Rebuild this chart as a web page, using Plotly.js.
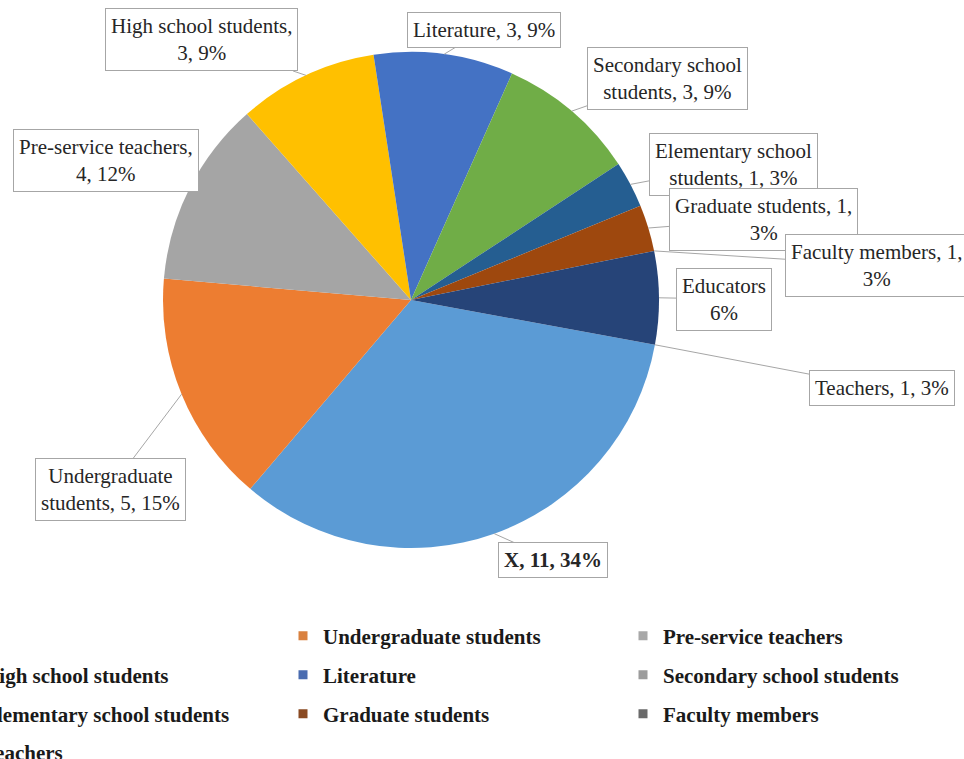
<!DOCTYPE html>
<html>
<head>
<meta charset="utf-8">
<script src="https://cdn.plot.ly/plotly-3.0.1.min.js"></script>
<style>
  html, body { margin: 0; padding: 0; background: #ffffff; }
  #chart { width: 964px; height: 759px; }
</style>
</head>
<body>
<div id="chart"></div>
<script>
// ---------------- DATA ----------------
const sliceLabels = ["X", "Undergraduate students", "Pre-service teachers", "High school students",
  "Literature", "Secondary school students", "Elementary school students", "Graduate students",
  "Faculty members", "Educators", "Teachers"];
// area actually drawn for each slice (Faculty members / Teachers have no visible wedge)
const sliceValues = [11, 5, 4, 3, 3, 3, 1, 1, 0, 2, 0];
const labelTexts = [
  "<b>X, 11, 34%</b>",
  "Undergraduate<br>students, 5, 15%",
  "Pre-service teachers,<br>4, 12%",
  "High school students,<br>3, 9%",
  "Literature, 3, 9%",
  "Secondary school<br>students, 3, 9%",
  "Elementary school<br>students, 1, 3%",
  "Graduate students, 1,<br>3%",
  "Faculty members, 1,<br>3%",
  "Educators<br>6%",
  "Teachers, 1, 3%"
];
const legendNames = ["X", "Undergraduate students", "Pre-service teachers", "High school students",
  "Literature", "Secondary school students", "Elementary school students", "Graduate students",
  "Faculty members", "Teachers"];

// ---------------- STYLE / LAYOUT ----------------
const palette = {
  "X": "#5B9BD5", "Undergraduate students": "#ED7D31", "Pre-service teachers": "#A5A5A5",
  "High school students": "#FFC000", "Literature": "#4472C4", "Secondary school students": "#70AD47",
  "Elementary school students": "#255E91", "Graduate students": "#9E480E", "Faculty members": "#636363",
  "Educators": "#264478", "Teachers": "#997300"
};
// legend swatches as they appear in the original (muted; Secondary shown grey)
const legendPalette = Object.assign({}, palette, {
  "Undergraduate students": "#D9813F", "Pre-service teachers": "#A8A8A8",
  "Literature": "#4A6CB0", "Secondary school students": "#9C9C9C",
  "Graduate students": "#8A4A22", "Faculty members": "#6A6A6A"
});
const W = 964, H = 759;
const CX = 411, CY = 300, R = 248, ROT = 100.4;
// label box centres (pixels)
const boxPos = [[553, 560], [110, 489], [106, 161], [201, 40], [484, 30], [667, 78],
  [733, 165], [763, 219], [876, 265], [724, 299], [882, 388]];
const legendRowY = [636, 675, 714, 752];
const legendX0 = -57;      // left edge of first legend column (px)
const colW = 340;

const SERIF = "Liberation Serif, Times New Roman, serif";

const pie = {
  type: "pie",
  labels: sliceLabels,
  values: sliceValues,
  sort: false,
  direction: "clockwise",
  rotation: ROT,
  textinfo: "none",
  hoverinfo: "none",
  showlegend: false,
  marker: { colors: sliceLabels.map(l => palette[l]), line: { width: 0 } },
  domain: { x: [(CX - R) / W, (CX + R) / W], y: [1 - (CY + R) / H, 1 - (CY - R) / H] }
};

// one single-entry legend per item, laid out in three columns
const legendKey = i => (i === 0 ? "legend" : "legend" + (i + 1));
const legendTraces = legendNames.map((n, i) => ({
  type: "scatter", mode: "markers", x: [null], y: [null], name: n,
  marker: { symbol: "square", size: 9, color: legendPalette[n] },
  legend: legendKey(i),
  hoverinfo: "none"
}));

// label anchors on pie edge, from slice values
const total = sliceValues.reduce((a, b) => a + b, 0);
let cum = 0;
const anchors = sliceValues.map(v => {
  const mid = (ROT + (cum + v / 2) / total * 360) * Math.PI / 180;
  cum += v;
  return [CX + R * Math.sin(mid), CY - R * Math.cos(mid)];
});

const annotations = labelTexts.map((t, i) => ({
  xref: "paper", yref: "paper",
  x: anchors[i][0] / W, y: 1 - anchors[i][1] / H,
  ax: boxPos[i][0] - anchors[i][0], ay: boxPos[i][1] - anchors[i][1],
  text: t, showarrow: true, arrowhead: 0, arrowwidth: 1, arrowcolor: "#a6a6a6",
  standoff: 0, startstandoff: 0,
  bgcolor: "#ffffff", bordercolor: "#a6a6a6", borderwidth: 1, borderpad: 5,
  align: "center",
  font: { family: SERIF, size: 21, color: "#262626" }
}));

const layout = {
  width: W, height: H,
  margin: { l: 0, r: 0, t: 0, b: 0, pad: 0, autoexpand: false },
  paper_bgcolor: "#ffffff", plot_bgcolor: "#ffffff",
  xaxis: { visible: false }, yaxis: { visible: false },
  showlegend: true,
  annotations: annotations
};
legendNames.forEach((n, i) => {
  const row = Math.floor(i / 3), col = i % 3;
  layout[legendKey(i)] = {
    orientation: "v",
    x: (legendX0 + col * colW) / W, xanchor: "left",
    y: 1 - legendRowY[row] / H, yanchor: "middle",
    font: { family: SERIF, size: 21, color: "#1a1a1a", weight: "bold" },
    bgcolor: "rgba(0,0,0,0)", borderwidth: 0
  };
});

Plotly.newPlot("chart", [pie].concat(legendTraces), layout, { displayModeBar: false, staticPlot: true });
</script>
</body>
</html>
